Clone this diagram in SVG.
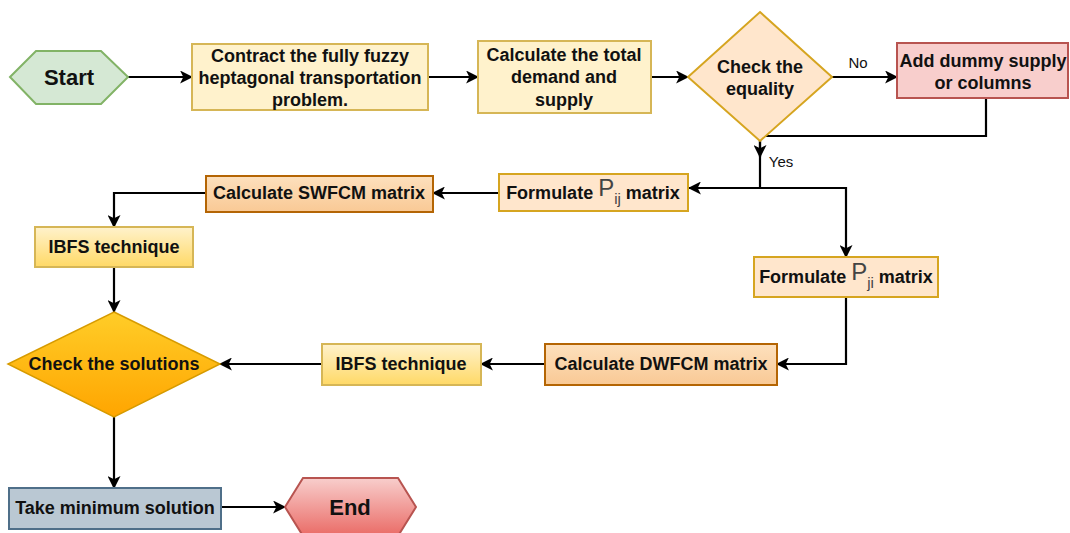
<svg xmlns="http://www.w3.org/2000/svg" width="1070" height="533" viewBox="0 0 1070 533">
<defs>
<marker id="arr" viewBox="0 0 12 12" refX="11" refY="6" markerWidth="13" markerHeight="13" markerUnits="userSpaceOnUse" orient="auto">
<path d="M0,0 L12,6 L0,12 L3,6 Z" fill="#000"/>
</marker>
<linearGradient id="gY" x1="0" y1="0" x2="0" y2="1"><stop offset="0" stop-color="#fff2cc"/><stop offset="1" stop-color="#ffd966"/></linearGradient>
<linearGradient id="gO" x1="0" y1="0" x2="0" y2="1"><stop offset="0" stop-color="#ffcd28"/><stop offset="1" stop-color="#ffa500"/></linearGradient>
<linearGradient id="gR" x1="0" y1="0" x2="0" y2="1"><stop offset="0" stop-color="#f8cecc"/><stop offset="1" stop-color="#ea6b66"/></linearGradient>
<linearGradient id="gP" x1="0" y1="0" x2="0" y2="1"><stop offset="0" stop-color="#fde0bd"/><stop offset="1" stop-color="#f9c995"/></linearGradient>
<style>
text{font-family:"Liberation Sans",Arial,sans-serif;font-weight:bold;font-size:18px;fill:#111;text-anchor:middle}
.lbl{font-weight:normal;font-size:15px}
.big{font-size:22px}
.e{fill:none;stroke:#000;stroke-width:2.2;marker-end:url(#arr)}
.green{fill:#d5e8d4;stroke:#82b366;stroke-width:2}
.yel{fill:#fff2cc;stroke:#d6b656;stroke-width:2}
.peach{fill:#ffe6cc;stroke:#d6a520;stroke-width:2}
.pink{fill:#f8cecc;stroke:#b85450;stroke-width:2}
.org{fill:url(#gP);stroke:#b46504;stroke-width:2}
.gy{fill:url(#gY);stroke:#d6b656;stroke-width:2}
.go{fill:url(#gO);stroke:#d79b00;stroke-width:1.5}
.gr{fill:url(#gR);stroke:#b85450;stroke-width:2}
.blue{fill:#bac8d3;stroke:#4f6f89;stroke-width:2}
.sub{font-weight:normal;fill:#444}
</style>
</defs>
<g id="connectors">
<path class="e" d="M128,77 H192"/>
<path class="e" d="M428,77 H478"/>
<path class="e" d="M651,77 H688"/>
<path class="e" d="M832,77 H897"/>
<path class="e" d="M986,98 V136 H760 V157"/>
<path class="e" d="M760,141 V188 H689"/>
<path class="e" d="M760,188 H846 V257"/>
<path class="e" d="M499,193 H433"/>
<path class="e" d="M206,193 H114 V227"/>
<path class="e" d="M114,267 V312"/>
<path class="e" d="M846,297 V364 H777"/>
<path class="e" d="M545,364 H481"/>
<path class="e" d="M322,364 H220"/>
<path class="e" d="M114,417 V488"/>
<path class="e" d="M221,507 H285"/>
<text class="lbl" x="858" y="68">No</text>
<text class="lbl" x="781" y="167">Yes</text>
</g>
<g id="start">
<polygon class="green" points="10,77 36,51 101,51 128,77 101,104 36,104"/>
<text class="big" x="69" y="85">Start</text>
</g>
<g id="contract">
<rect class="yel" x="192" y="44" width="236" height="66"/>
<text x="310" y="62">Contract the fully fuzzy</text>
<text x="310" y="84">heptagonal transportation</text>
<text x="310" y="106">problem.</text>
</g>
<g id="calc-total">
<rect class="yel" x="478" y="41" width="173" height="72"/>
<text x="564" y="61">Calculate the total</text>
<text x="564" y="83">demand and</text>
<text x="564" y="106">supply</text>
</g>
<g id="check-equality">
<polygon class="peach" points="760,12 832,77 760,141 688,77"/>
<text x="760" y="73">Check the</text>
<text x="760" y="95">equality</text>
</g>
<g id="add-dummy">
<rect class="pink" x="897" y="43" width="171" height="55"/>
<text x="983" y="67">Add dummy supply</text>
<text x="983" y="89">or columns</text>
</g>
<g id="pij">
<rect class="peach" x="499" y="174" width="189" height="37"/>
<text x="593" y="199">Formulate <tspan class="sub" font-size="24" dy="-3">P</tspan><tspan class="sub" font-size="15" dy="8">ij</tspan><tspan dy="-5"> matrix</tspan></text>
</g>
<g id="swfcm">
<rect class="org" x="206" y="176" width="227" height="36"/>
<text x="319" y="199">Calculate SWFCM matrix</text>
</g>
<g id="ibfs1">
<rect class="gy" x="35" y="227" width="158" height="40"/>
<text x="114" y="253">IBFS technique</text>
</g>
<g id="pji">
<rect class="peach" x="754" y="257" width="184" height="40"/>
<text x="846" y="283">Formulate <tspan class="sub" font-size="24" dy="-3">P</tspan><tspan class="sub" font-size="15" dy="8">ji</tspan><tspan dy="-5"> matrix</tspan></text>
</g>
<g id="dwfcm">
<rect class="org" x="545" y="344" width="232" height="41"/>
<text x="661" y="370">Calculate DWFCM matrix</text>
</g>
<g id="ibfs2">
<rect class="gy" x="322" y="344" width="159" height="41"/>
<text x="401" y="370">IBFS technique</text>
</g>
<g id="check-solutions">
<polygon class="go" points="114,312 220,364 114,417 8,364"/>
<text x="114" y="370">Check the solutions</text>
</g>
<g id="take-min">
<rect class="blue" x="9" y="488" width="212" height="41"/>
<text x="115" y="514">Take minimum solution</text>
</g>
<g id="end">
<polygon class="gr" points="285,507 303,478 398,478 416,507 398,536 303,536"/>
<text class="big" x="350" y="515">End</text>
</g>
</svg>
